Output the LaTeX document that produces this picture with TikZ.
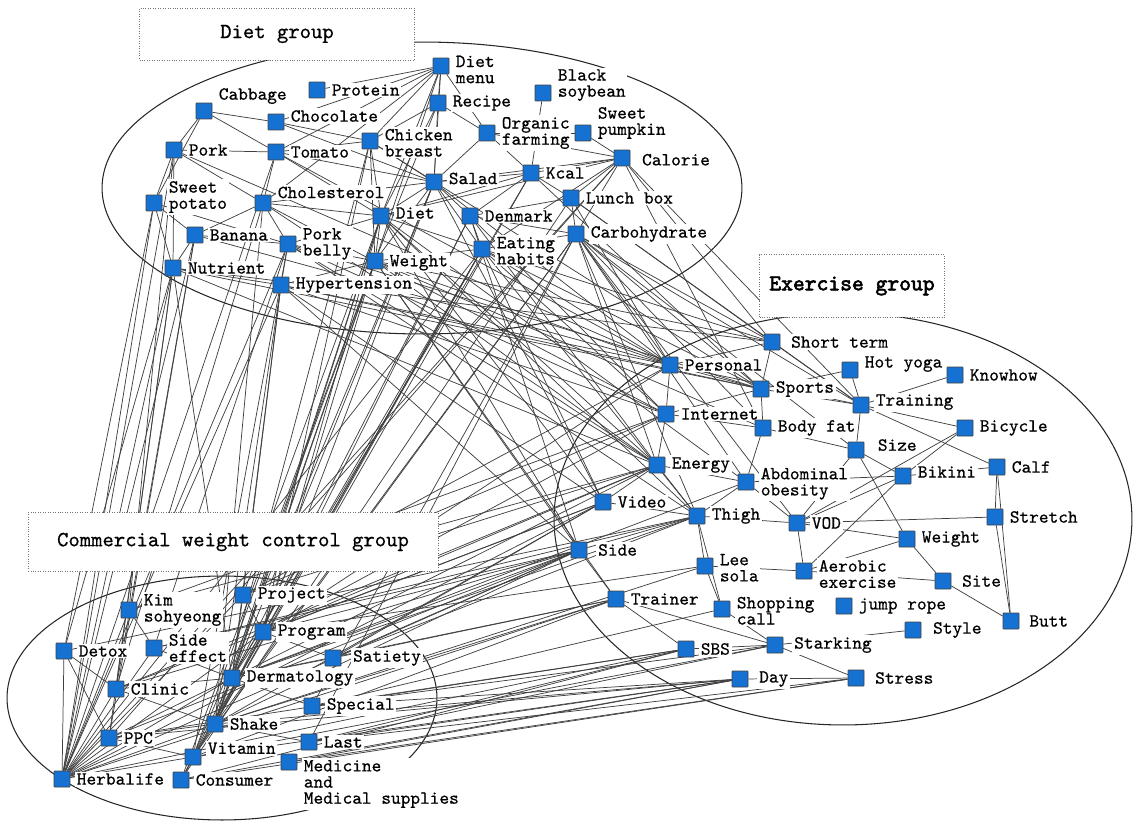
\documentclass[tikz,border=0pt]{standalone}
\usepackage{fontspec}
\newfontfamily\kwfont{lmmono10-regular.otf}[FakeBold=0.6]
\newfontfamily\grpboldfont{lmmono10-regular.otf}[FakeBold=2.6]
\usetikzlibrary{positioning}
\definecolor{colorkw}{HTML}{1572D3}
\tikzset{kwbox/.style={draw=black!75, fill=colorkw, minimum size=0.32cm, inner sep=0pt, rounded corners=0.4pt}}
\tikzset{kwlbl/.style={fill=white, inner sep=1pt, align=left, font=\kwfont\fontsize{10.5}{9.2}\selectfont}}
\tikzset{grp/.style={draw=black!55, densely dotted, fill=white, inner sep=0pt, font=\kwfont\fontsize{12.3}{13}\selectfont}}
\tikzset{grpline/.style={black!85, line width=0.6pt}}
\tikzset{edgekw/.style={black!75, line width=0.42pt}}
\pgfdeclarelayer{edgelayer}
\pgfsetlayers{edgelayer,main}
\newcommand\kw[5][]{%
  \node[kwbox] (#2) at (#3,#4) {};
  \node[kwlbl, right=2.5pt of #2, #1] (#2-l) {#5};}

\begin{document}
\begin{tikzpicture}[x=0.02cm, y=-0.02cm]
\useasboundingbox (0,0) rectangle (1133,821);
% diet group
\kw[yshift=-2pt]{dmenu}{441}{66}{Diet\\menu}
\kw{protein}{317}{90}{Protein}
\kw{recipe}{438}{103}{Recipe}
\kw[yshift=4.5pt]{bsoy}{543}{93}{Black\\soybean}
\kw[yshift=8.5pt]{cabbage}{204}{111}{Cabbage}
\kw[yshift=3.4pt]{choc}{276}{122}{Chocolate}
\kw{organic}{487}{133}{Organic\\farming}
\kw[yshift=5.7pt]{spump}{583}{133}{Sweet\\pumpkin}
\kw[yshift=-1pt]{chicken}{370}{141}{Chicken\\breast}
\kw{pork}{174}{150}{Pork}
\kw{tomato}{276}{152}{Tomato}
\kw[yshift=-1pt, xshift=3pt]{calorie}{622}{158}{Calorie}
\kw{kcal}{531}{173}{Kcal}
\kw[yshift=2pt]{salad}{434}{182}{Salad}
\kw[yshift=3.4pt]{spotato}{154}{203}{Sweet\\potato}
\kw[yshift=6pt]{chol}{263}{203}{Cholesterol}
\kw{lunch}{571}{198}{Lunch box}
\kw[yshift=1.7pt]{diet}{381}{216}{Diet}
\kw{denmark}{470}{216}{Denmark}
\kw{carb}{576}{234}{Carbohydrate}
\kw{banana}{195}{235}{Banana}
\kw{pbelly}{288}{244}{Pork\\belly}
\kw[yshift=-1pt]{eating}{482}{249}{Eating\\habits}
\kw[yshift=-1pt]{dweight}{375}{261}{Weight}
\kw{nutrient}{173}{268}{Nutrient}
\kw{hyper}{281}{285}{Hypertension}
% exercise group
\kw[xshift=2.5pt]{shortt}{772}{342}{Short term}
\kw{personal}{670}{365}{Personal}
\kw[yshift=3.4pt]{hotyoga}{850}{370}{Hot yoga}
\kw{knowhow}{955}{375}{Knowhow}
\kw{sports}{761}{389}{Sports}
\kw[yshift=1.7pt]{training}{861}{405}{Training}
\kw{internet}{666}{414}{Internet}
\kw{bodyfat}{763}{428}{Body fat}
\kw{bicycle}{965}{428}{Bicycle}
\kw[yshift=2.8pt, xshift=4pt]{size}{856}{450}{Size}
\kw{energy}{657}{465}{Energy}
\kw{calf}{997}{467}{Calf}
\kw[yshift=2.3pt]{bikini}{903}{476}{Bikini}
\kw[yshift=-1pt]{abdom}{746}{482}{Abdominal\\obesity}
\kw{video}{603}{502}{Video}
\kw{thigh}{697}{516}{Thigh}
\kw{vod}{797}{523}{VOD}
\kw{stretch}{995}{517}{Stretch}
\kw{eweight}{907}{539}{Weight}
\kw[xshift=2.5pt]{side}{579}{550}{Side}
\kw[yshift=-1pt]{leesola}{705}{566}{Lee\\sola}
\kw[yshift=-1.7pt]{aerobic}{804}{571}{Aerobic\\exercise}
\kw[xshift=2.5pt]{site}{943}{581}{Site}
\kw{trainer}{616}{599}{Trainer}
\kw[yshift=-1pt]{shopcall}{722}{609}{Shopping\\call}
\kw{jump}{844}{606}{jump rope}
\kw[xshift=3pt]{style}{913}{630}{Style}
\kw[xshift=2pt]{butt}{1011}{621}{Butt}
\kw{sbs}{686}{649}{SBS}
\kw[xshift=2.5pt]{starking}{775}{645}{Starking}
\kw[xshift=2.5pt]{day}{740}{679}{Day}
\kw[xshift=2.5pt]{stress}{856}{678}{Stress}
% commercial weight control group
\kw{project}{243}{595}{Project}
\kw{kim}{129}{610}{Kim\\sohyeong}
\kw{program}{263}{632}{Program}
\kw{sideeff}{154}{648}{Side\\effect}
\kw{detox}{64}{651}{Detox}
\kw[xshift=3pt]{satiety}{333}{658}{Satiety}
\kw{derm}{232}{678}{Dermatology}
\kw{clinic}{116}{689}{Clinic}
\kw{special}{312}{706}{Special}
\kw{shake}{215}{724}{Shake}
\kw{ppc}{109}{738}{PPC}
\kw{last}{309}{742}{Last}
\kw[yshift=5pt]{vitamin}{193}{757}{Vitamin}
\kw[yshift=-12.5pt]{medicine}{289}{762}{Medicine\\and\\Medical supplies}
\kw{herbalife}{62}{779}{Herbalife}
\kw{consumer}{181}{780}{Consumer}
% group titles
\node[grp, minimum width=5.5cm, minimum height=1.04cm] (dietgrp) at (277,34) {Diet group};
\node[grp, minimum width=3.7cm, minimum height=1.26cm, font=\grpboldfont\fontsize{12.8}{13}\selectfont] (exgrp) at (852,286) {Exercise group};
\node[grp, minimum width=8.2cm, minimum height=1.18cm] (comgrp) at (233,542) {Commercial weight control group};

\begin{pgfonlayer}{edgelayer}
\draw[grpline] (422,188) ellipse [x radius=6.4cm, y radius=2.92cm];
\draw[grpline] (843,519) ellipse [x radius=5.78cm, y radius=4.12cm];
\draw[grpline] (222,698) ellipse [x radius=4.3cm, y radius=2.44cm];
% within diet group
\foreach \a/\b in {dmenu/recipe, dmenu/chicken, dmenu/salad, dmenu/tomato, dmenu/choc, dmenu/diet, dmenu/dweight, dmenu/organic, dmenu/protein, dmenu/chol,
  recipe/salad, recipe/chicken, recipe/organic, recipe/dweight, recipe/diet, cabbage/pork, cabbage/choc, cabbage/spotato, cabbage/tomato,
  pork/spotato, pork/nutrient, pork/tomato, pork/chol, tomato/chicken, tomato/salad, tomato/chol, tomato/diet, choc/chicken, choc/salad,
  chol/diet, chol/salad, chol/pbelly, chol/banana, chicken/salad, chicken/diet, chicken/dweight, salad/diet, salad/kcal, salad/organic,
  salad/dweight, salad/eating, salad/denmark, organic/kcal, organic/calorie, organic/spump, spump/calorie, bsoy/kcal, calorie/kcal,
  calorie/lunch, calorie/carb, calorie/salad, calorie/eating, kcal/lunch, kcal/denmark, kcal/diet, lunch/carb, lunch/denmark, carb/eating,
  carb/denmark, diet/dweight, diet/eating, diet/pbelly, pbelly/banana, pbelly/dweight, dweight/eating, eating/denmark, banana/nutrient,
  nutrient/spotato, hyper/pbelly, hyper/dweight, hyper/nutrient, banana/spotato, calorie/diet}
  \draw[edgekw] (\a) -- (\b);
% diet -- commercial
\foreach \a/\b in {nutrient/herbalife, nutrient/ppc, nutrient/clinic, nutrient/detox, nutrient/derm, spotato/herbalife, spotato/detox,
  banana/herbalife, banana/clinic, banana/ppc, pork/herbalife, pork/kim, hyper/derm, hyper/shake, hyper/project, hyper/herbalife,
  pbelly/vitamin, pbelly/herbalife, pbelly/sideeff, chol/shake, chol/clinic, dweight/derm, dweight/program, dweight/shake, dweight/vitamin,
  dweight/consumer, diet/derm, diet/program, diet/project, diet/shake, eating/shake, eating/vitamin, eating/consumer, eating/derm,
  eating/herbalife, salad/program, salad/derm, salad/vitamin, chicken/program, chicken/shake, carb/special, carb/last, carb/shake,
  carb/vitamin, kcal/derm, kcal/shake, lunch/consumer, calorie/herbalife, calorie/ppc, denmark/shake, denmark/derm, tomato/herbalife}
  \draw[edgekw] (\a) -- (\b);
% diet -- exercise
\foreach \a/\b in {hyper/personal, hyper/sports, hyper/side, dweight/personal, dweight/shortt, dweight/bodyfat, dweight/energy,
  eating/personal, eating/internet, eating/sports, eating/shortt, eating/thigh, eating/video, carb/shortt, carb/personal, carb/training,
  carb/sports, carb/thigh, carb/abdom, carb/energy, lunch/shortt, lunch/personal, calorie/shortt, calorie/training, calorie/bodyfat,
  kcal/sports, denmark/internet, denmark/energy, diet/energy, diet/abdom, diet/thigh, salad/personal, nutrient/sports, pbelly/internet,
  chol/energy, denmark/side, diet/side, salad/video, nutrient/shortt, pbelly/thigh, nutrient/energy, banana/personal, spotato/sports,
  pork/personal, hyper/internet, hyper/video, pbelly/energy, diet/video, chol/internet, dweight/side, dweight/trainer, chicken/sports,
  tomato/personal, carb/bodyfat, carb/size, carb/vod, lunch/training}
  \draw[edgekw] (\a) -- (\b);
% commercial -- exercise
\foreach \a/\b in {herbalife/side, herbalife/trainer, herbalife/video, herbalife/sbs, ppc/side, ppc/sbs, ppc/day, clinic/video,
  clinic/energy, clinic/side, detox/thigh, consumer/sbs, consumer/day, consumer/stress, vitamin/day, vitamin/trainer, vitamin/starking,
  last/day, last/sbs, last/stress, special/starking, special/shopcall, special/sbs, satiety/side, satiety/thigh, satiety/video,
  program/video, program/energy, program/personal, program/side, project/internet, project/energy, derm/thigh, derm/side, derm/abdom,
  derm/trainer, shake/side, shake/trainer, shake/leesola, shake/video, shake/day, medicine/day, medicine/stress, kim/energy,
  sideeff/side, sideeff/thigh, program/leesola, satiety/trainer, special/day, last/starking, program/internet, project/personal,
  derm/energy, kim/internet}
  \draw[edgekw] (\a) -- (\b);
% within commercial group
\foreach \a/\b in {herbalife/detox, herbalife/clinic, herbalife/ppc, herbalife/kim, herbalife/sideeff, herbalife/derm, herbalife/shake,
  herbalife/vitamin, herbalife/program, herbalife/project, detox/clinic, detox/ppc, clinic/derm, clinic/shake, ppc/shake, ppc/derm,
  ppc/vitamin, derm/program, derm/project, derm/shake, derm/vitamin, shake/vitamin, project/program, sideeff/kim, sideeff/derm,
  last/shake, special/derm, satiety/derm, satiety/program, consumer/vitamin, shake/program}
  \draw[edgekw] (\a) -- (\b);
% within exercise group
\foreach \a/\b in {personal/shortt, personal/sports, personal/training, personal/internet, sports/training, sports/hotyoga,
  sports/bodyfat, shortt/training, shortt/sports, internet/sports, internet/energy, internet/bodyfat, energy/abdom, energy/video,
  energy/thigh, video/thigh, thigh/abdom, thigh/leesola, thigh/side, thigh/vod, thigh/shopcall, abdom/vod, abdom/bikini, bodyfat/abdom,
  bodyfat/size, size/training, size/eweight, size/bikini, bikini/calf, bikini/bicycle, bicycle/vod, training/calf, training/bicycle,
  hotyoga/training, knowhow/training, vod/stretch, vod/aerobic, vod/eweight, vod/bikini, aerobic/eweight, aerobic/site, eweight/site,
  site/butt, calf/stretch, calf/butt, stretch/butt, style/starking, stress/starking, day/stress, sbs/starking, shopcall/leesola,
  shopcall/starking, trainer/side, trainer/sbs, trainer/starking, leesola/aerobic, aerobic/bikini, size/vod}
  \draw[edgekw] (\a) -- (\b);
\end{pgfonlayer}
\end{tikzpicture}
\end{document}
